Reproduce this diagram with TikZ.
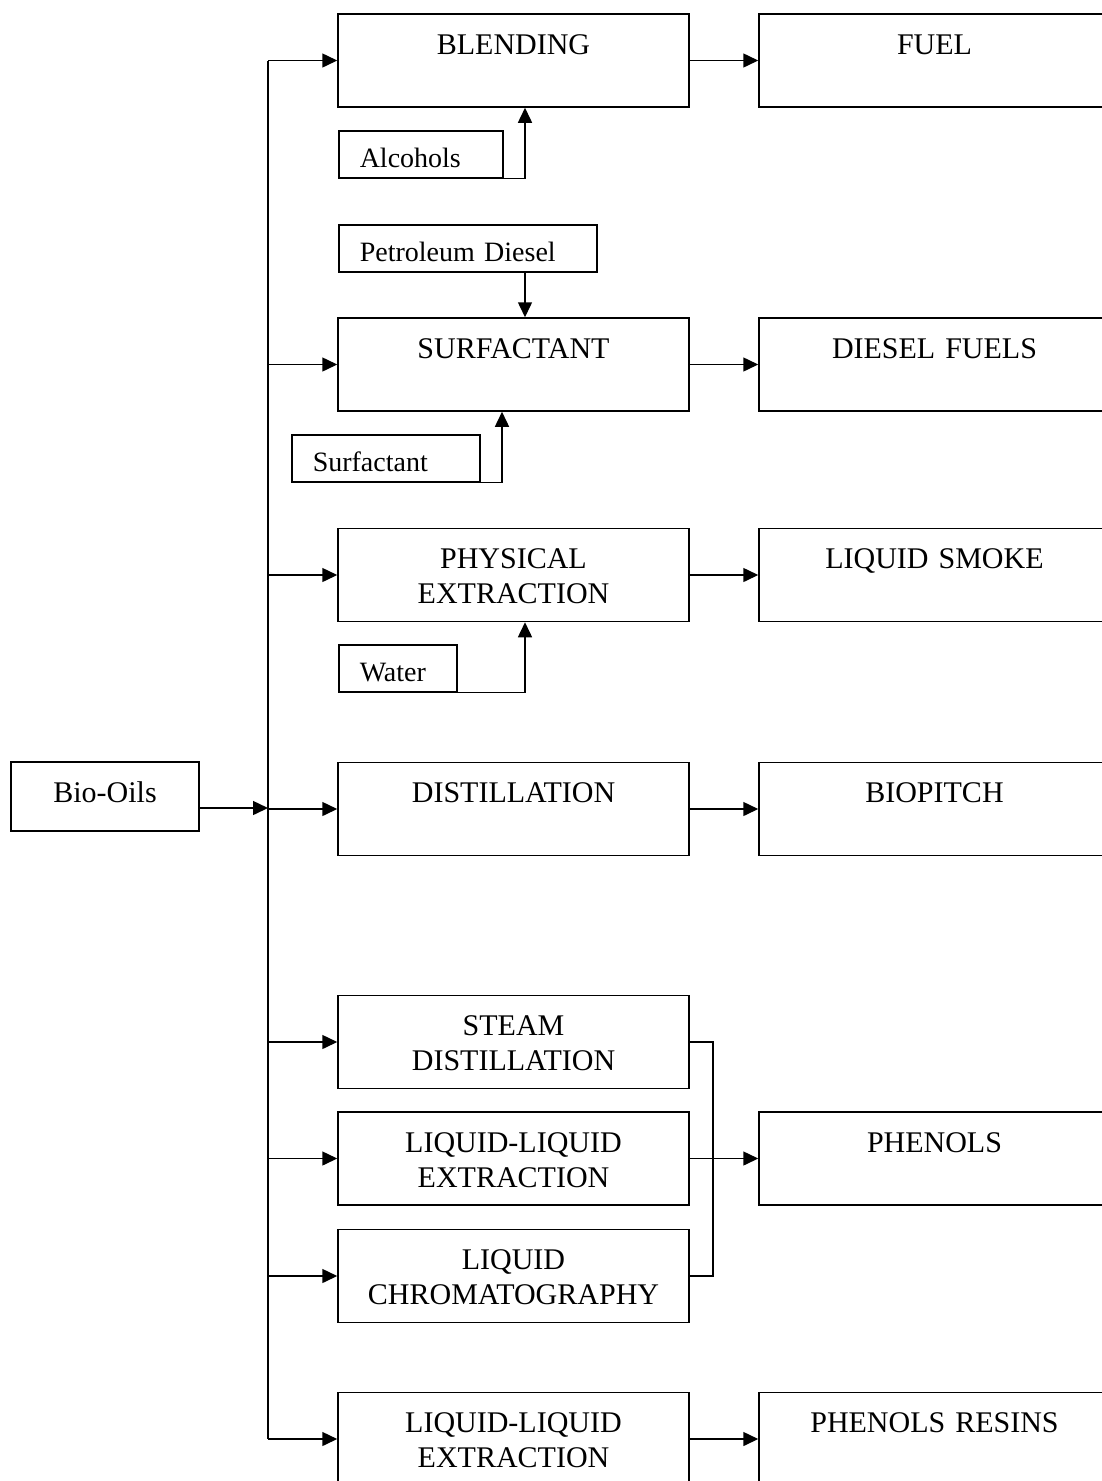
\documentclass[tikz,border=0pt]{standalone}
\usepackage{fontspec}
\setmainfont{Liberation Serif}
\usepackage{tikz}
\usetikzlibrary{arrows.meta,positioning}

\begin{document}
\begin{tikzpicture}[x=1pt,y=-1pt,line width=1.5pt,
  box/.style={draw,rectangle,inner sep=0pt,text width=351pt,align=center,
    text height=40pt,text depth=53pt,font=\fontsize{30}{35}\selectfont},
  feed/.style={draw,rectangle,anchor=north west,inner xsep=21pt,inner ysep=0pt,
    align=left,text height=37pt,text depth=10pt,font=\fontsize{28}{32}\selectfont},
  arr/.style={-{Triangle[length=15pt,width=14pt]}}]
%\draw[help lines](0,0)grid[step=100](1101,1481);
\useasboundingbox (0,0) rectangle (1101,1481);

\node[box,text width=188pt,text height=40pt,text depth=29pt] (bio) at (105,796.5) {Bio-Oils};
\coordinate (j) at (268,808);
\coordinate (k) at (713,0);

\node[box] (blend) at (513.5,60.5) {BLENDING};
\node[box] (surf) at (513.5,364.5) {SURFACTANT};
\node[box] (phys) at (513.5,575) {PHYSICAL\\EXTRACTION};
\node[box] (dist) at (513.5,809) {DISTILLATION};
\node[box] (steam) at (513.5,1042) {STEAM\\DISTILLATION};
\node[box] (ll) at (513.5,1158.5) {LIQUID-LIQUID\\EXTRACTION};
\node[box] (chrom) at (513.5,1276) {LIQUID\\CHROMATOGRAPHY};
\node[box] (ll2) at (513.5,1439) {LIQUID-LIQUID\\EXTRACTION};

\node[box] (fuel) at (934.5,60.5) {FUEL};
\node[box] (diesel) at (934.5,364.5) {DIESEL FUELS};
\node[box] (smoke) at (934.5,575) {LIQUID SMOKE};
\node[box] (pitch) at (934.5,809) {BIOPITCH};
\node[box] (phen) at (934.5,1158.5) {PHENOLS};
\node[box] (resin) at (934.5,1439) {PHENOLS RESINS};

\node[feed,text width=122pt] (alc) at (338,130) {Alcohols};
\node[feed,text width=216pt] (petro) at (338,224) {Petroleum Diesel};
\node[feed,text width=146pt] (surfin) at (291,434) {Surfactant};
\node[feed,text width=76pt] (water) at (338,644) {Water};

% bus
\draw[arr] (bio.east |- j) -- (j);
\draw (blend.west -| j) -- (ll2.west -| j);
\foreach \n in {blend,surf,phys,dist,steam,ll,chrom,ll2}
  \draw[arr] (\n.west -| j) -- (\n.west);
\foreach \a/\b in {blend/fuel,surf/diesel,phys/smoke,dist/pitch,ll/phen,ll2/resin}
  \draw[arr] (\a) -- (\b);

% additives
\draw[arr] (alc.south east) -| ([xshift=11.5pt]blend.south);
\draw[arr] ([xshift=11.5pt]surf.north |- petro.south) -- ([xshift=11.5pt]surf.north);
\draw[arr] (surfin.south east) -| ([xshift=-11.5pt]surf.south);
\draw[arr] (water.south east) -| ([xshift=11.5pt]phys.south);

% phenols bracket
\draw[line width=1.2pt] (steam.east) -- (steam.east -| k) -- (chrom.east -| k) -- (chrom.east);

\end{tikzpicture}
\end{document}
